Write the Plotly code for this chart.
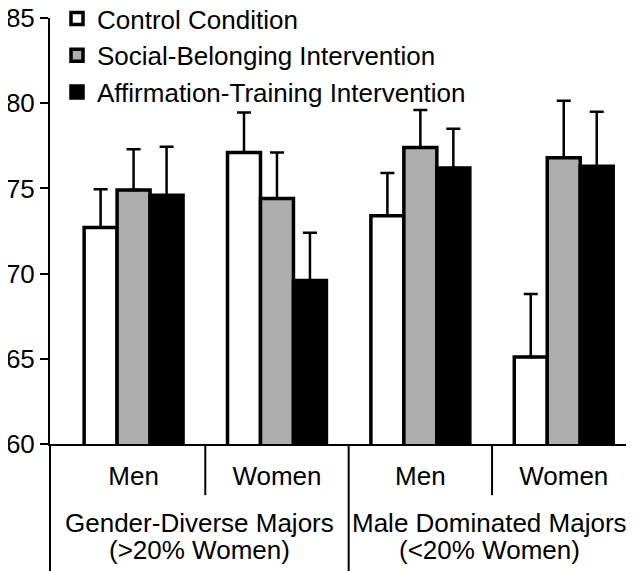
import plotly.graph_objects as go

# ---- data ----
subgroups = ["Men", "Women", "Men", "Women"]
group_labels = ["Gender-Diverse Majors", "Male Dominated Majors"]
group_sub = ["(>20% Women)", "(<20% Women)"]
series_names = ["Control Condition", "Social-Belonging Intervention", "Affirmation-Training Intervention"]
control = [72.7, 77.1, 73.4, 65.1]
control_err = [2.25, 2.35, 2.5, 3.7]
social = [74.9, 74.4, 77.4, 76.8]
social_err = [2.4, 2.7, 2.2, 3.35]
affirm = [74.6, 69.6, 76.2, 76.3]
affirm_err = [2.85, 2.8, 2.3, 3.2]
y_ticks = [60, 65, 70, 75, 80, 85]

colors = ["#FFFFFF", "#ADADAD", "#000000"]
FONT = "Arial, Liberation Sans, Helvetica, sans-serif"
FS = 26
FS_TXT = 26

xpos = list(range(len(subgroups)))
xmin, xmax = -0.583, 3.49

fig = go.Figure()
for name, vals, errs, col in zip(series_names, [control, social, affirm],
                                 [control_err, social_err, affirm_err], colors):
    fig.add_trace(go.Bar(
        x=xpos, y=vals, name=name,
        marker=dict(color=col, line=dict(color="black", width=3.5)),
        error_y=dict(type="data", symmetric=False, array=errs,
                     arrayminus=[0] * len(errs), color="black",
                     thickness=2.5, width=7),
    ))

shapes = []
# inner separators (Men | Women)
for xv in (0.5, 2.5):
    shapes.append(dict(type="line", xref="x", yref="paper", x0=xv, x1=xv,
                       y0=0, y1=-0.12, line=dict(color="black", width=2)))
# group separator and left border
shapes.append(dict(type="line", xref="x", yref="paper", x0=1.5, x1=1.5,
                   y0=0, y1=-0.31, line=dict(color="black", width=2)))
shapes.append(dict(type="line", xref="paper", yref="paper", x0=0, x1=0,
                   y0=0, y1=-0.31, line=dict(color="black", width=2)))

annotations = []
centers = [(xmin + 1.5) / 2, (1.5 + xmax) / 2 - 0.01]
for cx, l1, l2 in zip(centers, group_labels, group_sub):
    annotations.append(dict(x=cx, y=-0.185, xref="x", yref="paper", text=l1,
                            showarrow=False, yanchor="middle",
                            font=dict(size=FS_TXT, color="black", family=FONT)))
    annotations.append(dict(x=cx, y=-0.249, xref="x", yref="paper", text=l2,
                            showarrow=False, yanchor="middle",
                            font=dict(size=FS_TXT, color="black", family=FONT)))

# page body adds an 8px offset, so the figure is sized to fit the window
fig.update_layout(
    width=626, height=563,
    margin=dict(l=42, r=0, t=10, b=127, autoexpand=False),
    paper_bgcolor="white", plot_bgcolor="white",
    barmode="group", bargap=0.31, bargroupgap=0,
    font=dict(family=FONT, size=FS, color="black"),
    showlegend=True,
    legend=dict(x=0.012, y=1.054, xanchor="left", yanchor="top",
                xref="paper", yref="paper",
                bgcolor="rgba(0,0,0,0)", font=dict(size=26),
                traceorder="normal", itemwidth=30),
    shapes=shapes, annotations=annotations,
    xaxis=dict(range=[xmin, xmax], tickvals=xpos, ticktext=subgroups,
               ticks="", showline=True, linecolor="black", linewidth=2,
               showgrid=False, zeroline=False, ticklabelstandoff=8,
               automargin=False, tickfont=dict(size=FS)),
    yaxis=dict(range=[60, 85], tickvals=y_ticks, ticks="outside",
               ticklen=8, tickwidth=2, tickcolor="black",
               showline=True, linecolor="black", linewidth=2,
               showgrid=False, zeroline=False, automargin=False,
               ticklabeloverflow="allow", tickfont=dict(size=FS)),
)

fig.write_html("out.html")
